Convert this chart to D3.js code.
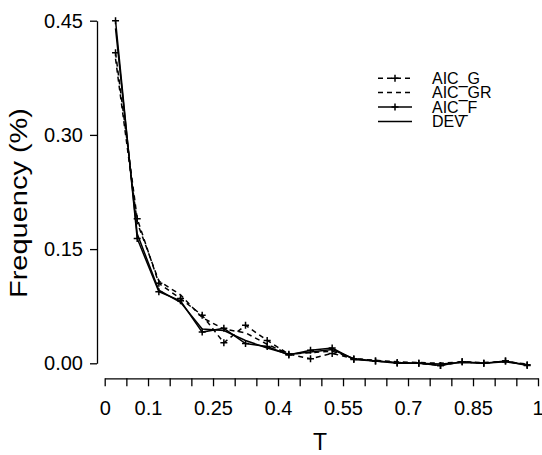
<!DOCTYPE html>
<html>
<head>
<meta charset="utf-8">
<script src="https://cdn.jsdelivr.net/npm/d3@7"></script>
<style>
body { margin: 0; background: #fff; }
text { font-family: "Liberation Sans", Arial, Helvetica, sans-serif; fill: #000; }
</style>
</head>
<body>
<svg id="grafico" width="542" height="455"></svg>
<script>
//valori di T (centri delle classi)
var valoriT = [0.025, 0.075, 0.125, 0.175, 0.225, 0.275, 0.325, 0.375, 0.425, 0.475,
               0.525, 0.575, 0.625, 0.675, 0.725, 0.775, 0.825, 0.875, 0.925, 0.975];

//frequenze delle quattro serie
var aicG  = [0.408, 0.190, 0.105, 0.085, 0.063, 0.027, 0.050, 0.030, 0.012, 0.006,
             0.013, 0.006, 0.003, 0.001, 0.000, -0.003, 0.002, 0.000, 0.003, -0.002];
var aicGR = [0.400, 0.185, 0.108, 0.090, 0.060, 0.045, 0.040, 0.025, 0.012, 0.014,
             0.016, 0.006, 0.004, 0.002, 0.001, 0.000, 0.002, 0.001, 0.002, -0.001];
var aicF  = [0.450, 0.164, 0.094, 0.082, 0.041, 0.046, 0.026, 0.022, 0.011, 0.017,
             0.020, 0.005, 0.003, 0.000, 0.000, -0.003, 0.002, 0.000, 0.003, -0.003];
var dev   = [0.440, 0.170, 0.096, 0.080, 0.045, 0.043, 0.030, 0.020, 0.012, 0.015,
             0.018, 0.006, 0.003, 0.001, 0.000, -0.001, 0.001, 0.000, 0.002, -0.002];

//etichette degli assi
var nomiSerie = ['AIC_G', 'AIC_GR', 'AIC_F', 'DEV'];
var tickY = [0, 0.15, 0.30, 0.45];
var etichetteX = [0, 0.1, 0.25, 0.4, 0.55, 0.7, 0.85, 1];

var svg = d3.select('#grafico');

var x = d3.scaleLinear().domain([0, 1]).range([104.7, 538]);
var y = d3.scaleLinear().domain([0, 0.45]).range([363.3, 20.7]);

//stile di ogni serie: tratteggio e marcatori
var serie = [
    { nome: nomiSerie[0], valori: aicG,  tratteggio: '5,4', croci: true },
    { nome: nomiSerie[1], valori: aicGR, tratteggio: '5,4', croci: false },
    { nome: nomiSerie[2], valori: aicF,  tratteggio: null,  croci: true },
    { nome: nomiSerie[3], valori: dev,   tratteggio: null,  croci: false }
];

//asse y
var assey = svg.append('g')
    .attr('transform', 'translate(97,0)')
    .call(d3.axisLeft(y).tickValues(tickY).tickFormat(d3.format('.2f'))
        .tickSize(7).tickSizeOuter(0).tickPadding(7));

//asse x, una tacca ogni 0.05
var tacche = d3.range(0, 21).map(function(i) { return i / 20; });
var assex = svg.append('g')
    .attr('transform', 'translate(0,378.3)')
    .call(d3.axisBottom(x).tickValues(tacche)
        .tickFormat(function(d) {
            var r = Math.round(d * 100);
            var trovato = etichetteX.some(function(e) { return Math.round(e * 100) == r; });
            return trovato ? String(+d.toFixed(2)) : '';
        })
        .tickSize(8).tickSizeOuter(0).tickPadding(15));

svg.selectAll('.tick text').style('font-size', '20px');
svg.selectAll('.domain, .tick line').attr('stroke', '#000').attr('stroke-width', 1.3);

//l'ultima etichetta sta sul bordo
assex.selectAll('.tick text')
    .filter(function(d) { return d == 1; })
    .attr('text-anchor', 'end')
    .attr('x', 5);

//titoli degli assi
svg.append('text')
    .attr('transform', 'translate(27,203) rotate(-90)')
    .attr('text-anchor', 'middle')
    .attr('textLength', 190)
    .attr('lengthAdjust', 'spacingAndGlyphs')
    .style('font-size', '23px')
    .text('Frequency (%)');

svg.append('text')
    .attr('x', 320)
    .attr('y', 450)
    .attr('text-anchor', 'middle')
    .style('font-size', '23px')
    .text('T');

var linea = d3.line()
    .x(function(d, i) { return x(valoriT[i]); })
    .y(function(d) { return y(d); });

//funzione che disegna una croce
function croce(g, cx, cy) {
    g.append('path')
        .attr('d', 'M' + (cx - 3.5) + ',' + cy + 'H' + (cx + 3.5) + 'M' + cx + ',' + (cy - 3.5) + 'V' + (cy + 3.5))
        .attr('stroke', '#000')
        .attr('stroke-width', 1.5);
}

serie.forEach(function(s) {
    var g = svg.append('g');
    g.append('path')
        .datum(s.valori)
        .attr('d', linea)
        .attr('fill', 'none')
        .attr('stroke', '#000')
        .attr('stroke-width', 1.5)
        .attr('stroke-dasharray', s.tratteggio);
    if(s.croci) {
        s.valori.forEach(function(v, i) {
            croce(g, x(valoriT[i]), y(v));
        });
    }
});

//legenda
var righeLegenda = [78.3, 92.5, 107, 121.5];
serie.forEach(function(s, i) {
    var g = svg.append('g');
    g.append('line')
        .attr('x1', 378).attr('x2', 412)
        .attr('y1', righeLegenda[i]).attr('y2', righeLegenda[i])
        .attr('stroke', '#000')
        .attr('stroke-width', 1.5)
        .attr('stroke-dasharray', s.tratteggio);
    if(s.croci) {
        croce(g, 395, righeLegenda[i]);
    }
    g.append('text')
        .attr('x', 432)
        .attr('y', righeLegenda[i])
        .attr('dy', '0.36em')
        .style('font-size', '16px')
        .text(s.nome);
});
</script>
</body>
</html>
